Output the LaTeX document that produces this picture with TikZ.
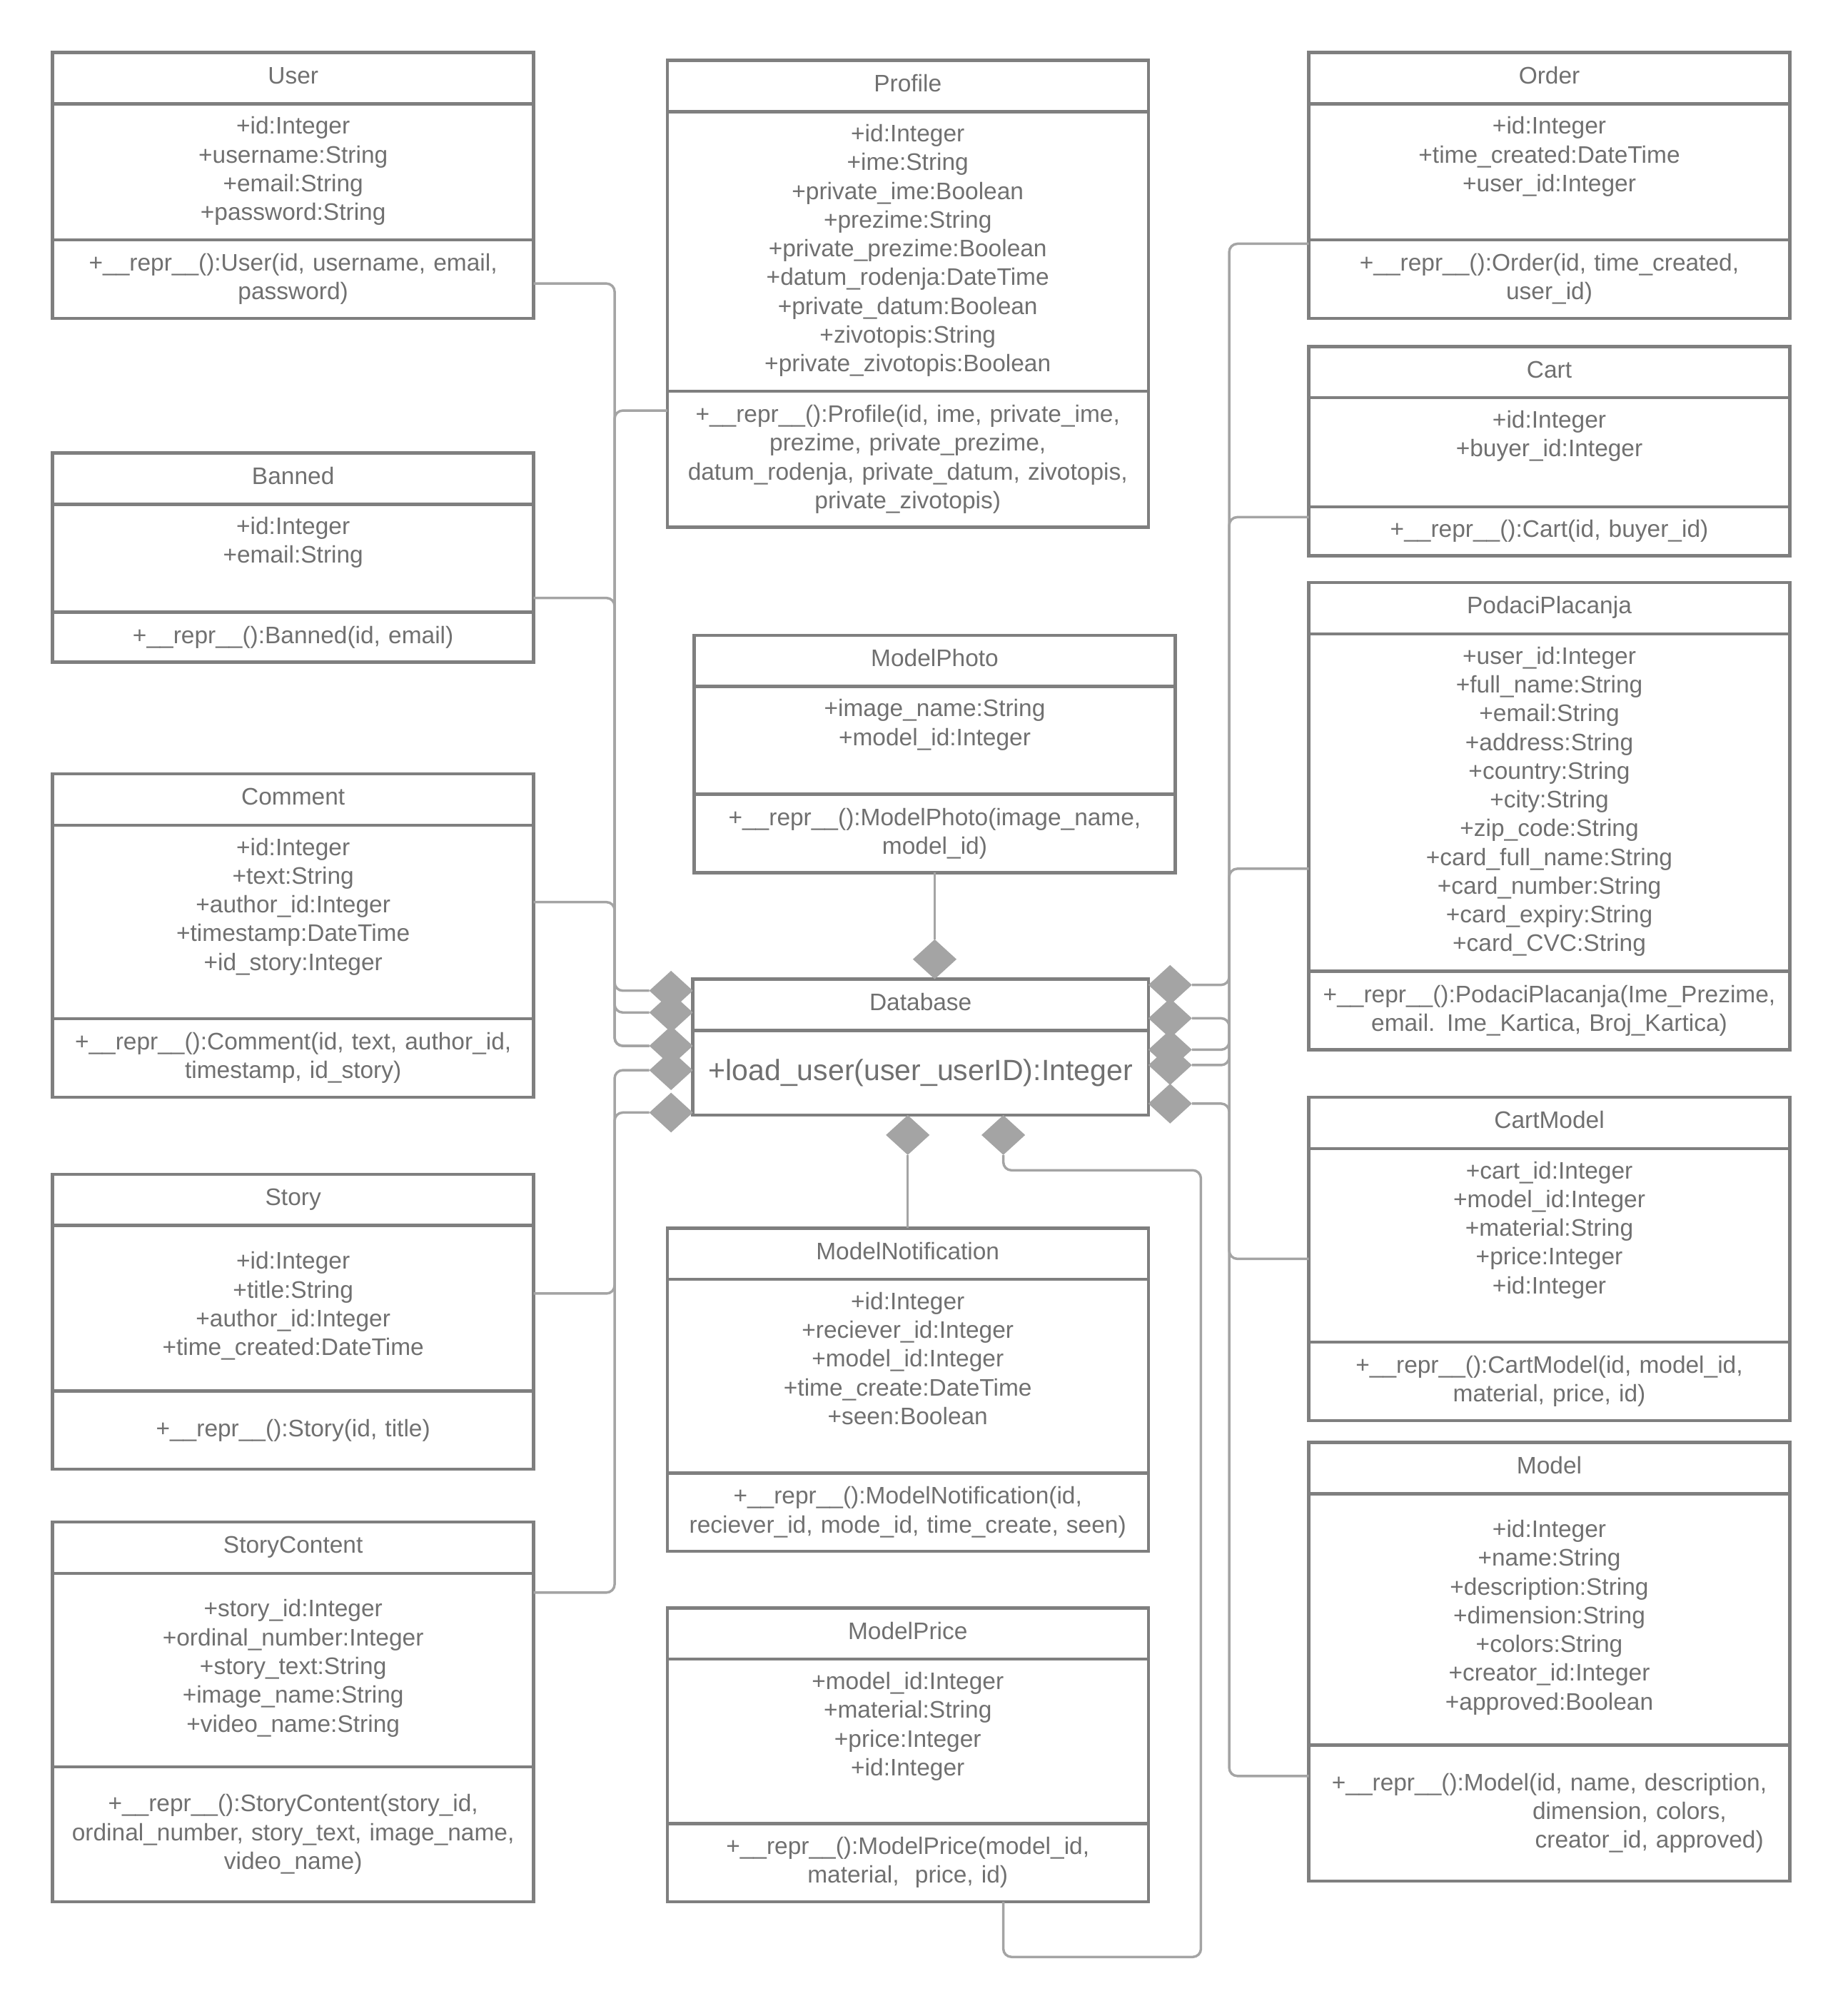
\documentclass[tikz,border=0pt]{standalone}
\usepackage{fontspec}
\setmainfont{Liberation Sans}
\usepackage{xcolor}
\usetikzlibrary{shapes.geometric, positioning}

\definecolor{boxgray}{HTML}{7F7F7F}
\definecolor{linkgray}{HTML}{A4A4A4}
\definecolor{textgray}{HTML}{707070}

\newcommand{\classfont}{\fontsize{10.6}{12.75}\selectfont}
\newcommand{\attrs}[3]{\parbox[c][#1][t]{7.5cm}{\centering\vspace*{#2}#3}}

\tikzset{
  classbox/.style={draw=boxgray, line width=1.4pt, rectangle, inner sep=0pt, outer sep=0pt, text=textgray, font=\classfont},
  classname/.style={classbox, minimum width=7.5cm, minimum height=0.8cm, text height=7.7pt, text depth=2.7pt},
  methods/.style={classbox, text width=7.5cm, align=center},
  link/.style={draw=linkgray, line width=1.1pt, rounded corners=3.6pt},
  owner/.style={diamond, fill=linkgray, inner sep=0pt, outer sep=0pt, minimum width=0.68cm, minimum height=0.62cm},
}

\begin{document}
\begin{tikzpicture}[x=0.02cm, y=-0.02cm]
    \useasboundingbox (0,0) rectangle (1440,1571);

    % left column
    \node [classname, anchor=north west] (user) at (41,41) {User};
    \node [classbox, below=0pt of user] (user-a) {\attrs{2.12cm}{0.2cm}{+id:Integer\\+username:String\\+email:String\\+password:String}};
    \node [methods, below=0pt of user-a, minimum height=1.22cm] (user-m) {+\_\_repr\_\_():User(id, username, email,\\password)};

    \node [classname, anchor=north west] (banned) at (41,353) {Banned};
    \node [classbox, below=0pt of banned] (banned-a) {\attrs{1.68cm}{0.2cm}{+id:Integer\\+email:String}};
    \node [methods, below=0pt of banned-a, minimum height=0.78cm] (banned-m) {+\_\_repr\_\_():Banned(id, email)};

    \node [classname, anchor=north west] (comment) at (41,603) {Comment};
    \node [classbox, below=0pt of comment] (comment-a) {\attrs{3.02cm}{0.2cm}{+id:Integer\\+text:String\\+author\_id:Integer\\+timestamp:DateTime\\+id\_story:Integer}};
    \node [methods, below=0pt of comment-a, minimum height=1.22cm] (comment-m) {+\_\_repr\_\_():Comment(id, text, author\_id,\\timestamp, id\_story)};

    \node [classname, anchor=north west] (story) at (41,915) {Story};
    \node [classbox, below=0pt of story] (story-a) {\attrs{2.58cm}{0.41cm}{+id:Integer\\+title:String\\+author\_id:Integer\\+time\_created:DateTime}};
    \node [methods, below=0pt of story-a, minimum height=1.22cm] (story-m) {+\_\_repr\_\_():Story(id, title)};

    \node [classname, anchor=north west] (content) at (41,1186) {StoryContent};
    \node [classbox, below=0pt of content] (content-a) {\attrs{3.02cm}{0.41cm}{+story\_id:Integer\\+ordinal\_number:Integer\\+story\_text:String\\+image\_name:String\\+video\_name:String}};
    \node [methods, below=0pt of content-a, minimum height=2.1cm] (content-m) {+\_\_repr\_\_():StoryContent(story\_id,\\ordinal\_number, story\_text, image\_name,\\video\_name)};

    % middle column
    \node [classname, anchor=north west] (profile) at (520,47) {Profile};
    \node [classbox, below=0pt of profile] (profile-a) {\attrs{4.36cm}{0.2cm}{+id:Integer\\+ime:String\\+private\_ime:Boolean\\+prezime:String\\+private\_prezime:Boolean\\+datum\_rodenja:DateTime\\+private\_datum:Boolean\\+zivotopis:String\\+private\_zivotopis:Boolean}};
    \node [methods, below=0pt of profile-a, minimum height=2.12cm] (profile-m) {+\_\_repr\_\_():Profile(id, ime, private\_ime,\\prezime, private\_prezime,\\datum\_rodenja, private\_datum, zivotopis,\\private\_zivotopis)};

    \node [classname, anchor=north west] (photo) at (541,495) {ModelPhoto};
    \node [classbox, below=0pt of photo] (photo-a) {\attrs{1.68cm}{0.2cm}{+image\_name:String\\+model\_id:Integer}};
    \node [methods, below=0pt of photo-a, minimum height=1.22cm] (photo-m) {+\_\_repr\_\_():ModelPhoto(image\_name,\\model\_id)};

    \node [classname, anchor=north west, minimum width=7.1cm] (db) at (540,763) {Database};
    \node [methods, below=0pt of db, text width=7.1cm, minimum height=1.32cm, font=\fontsize{13}{15.6}\selectfont] (db-m) {+load\_user(user\_userID):Integer};

    \node [classname, anchor=north west] (note) at (520,957) {ModelNotification};
    \node [classbox, below=0pt of note] (note-a) {\attrs{3.02cm}{0.2cm}{+id:Integer\\+reciever\_id:Integer\\+model\_id:Integer\\+time\_create:DateTime\\+seen:Boolean}};
    \node [methods, below=0pt of note-a, minimum height=1.22cm] (note-m) {+\_\_repr\_\_():ModelNotification(id,\\reciever\_id, mode\_id, time\_create, seen)};

    \node [classname, anchor=north west] (price) at (520,1253) {ModelPrice};
    \node [classbox, below=0pt of price] (price-a) {\attrs{2.56cm}{0.2cm}{+model\_id:Integer\\+material:String\\+price:Integer\\+id:Integer}};
    \node [methods, below=0pt of price-a, minimum height=1.22cm] (price-m) {+\_\_repr\_\_():ModelPrice(model\_id,\\material,~ price, id)};

    % right column
    \node [classname, anchor=north west] (order) at (1020,41) {Order};
    \node [classbox, below=0pt of order] (order-a) {\attrs{2.12cm}{0.2cm}{+id:Integer\\+time\_created:DateTime\\+user\_id:Integer}};
    \node [methods, below=0pt of order-a, minimum height=1.22cm] (order-m) {+\_\_repr\_\_():Order(id, time\_created,\\user\_id)};

    \node [classname, anchor=north west] (cart) at (1020,270) {Cart};
    \node [classbox, below=0pt of cart] (cart-a) {\attrs{1.7cm}{0.2cm}{+id:Integer\\+buyer\_id:Integer}};
    \node [methods, below=0pt of cart-a, minimum height=0.76cm] (cart-m) {+\_\_repr\_\_():Cart(id, buyer\_id)};

    \node [classname, anchor=north west] (pay) at (1020,454) {PodaciPlacanja};
    \node [classbox, below=0pt of pay] (pay-a) {\attrs{5.26cm}{0.2cm}{+user\_id:Integer\\+full\_name:String\\+email:String\\+address:String\\+country:String\\+city:String\\+zip\_code:String\\+card\_full\_name:String\\+card\_number:String\\+card\_expiry:String\\+card\_CVC:String}};
    \node [methods, below=0pt of pay-a, minimum height=1.22cm] (pay-m) {+\_\_repr\_\_():PodaciPlacanja(Ime\_Prezime,\\email. Ime\_Kartica, Broj\_Kartica)};

    \node [classname, anchor=north west] (cartmodel) at (1020,855) {CartModel};
    \node [classbox, below=0pt of cartmodel] (cartmodel-a) {\attrs{3.02cm}{0.2cm}{+cart\_id:Integer\\+model\_id:Integer\\+material:String\\+price:Integer\\+id:Integer}};
    \node [methods, below=0pt of cartmodel-a, minimum height=1.22cm] (cartmodel-m) {+\_\_repr\_\_():CartModel(id, model\_id,\\material, price, id)};

    \node [classname, anchor=north west] (model) at (1020,1124) {Model};
    \node [classbox, below=0pt of model] (model-a) {\attrs{3.92cm}{0.41cm}{+id:Integer\\+name:String\\+description:String\\+dimension:String\\+colors:String\\+creator\_id:Integer\\+approved:Boolean}};
    \node [methods, below=0pt of model-a, minimum height=2.12cm] (model-m) {+\_\_repr\_\_():Model(id, name, description,\\\hspace*{2.5cm}dimension, colors,\\\hspace*{3.12cm}creator\_id, approved)};

    % composition diamonds
    \node [owner, anchor=east] (dl1) at ([yshift=-0.18cm]db.north west) {};
    \node [owner, anchor=east] (dl2) at ([yshift=-0.52cm]db.north west) {};
    \node [owner, anchor=east] (dl3) at ([yshift=-1.04cm]db.north west) {};
    \node [owner, anchor=east] (dl4) at ([yshift=-1.42cm]db.north west) {};
    \node [owner, anchor=east] (dl5) at ([yshift=-2.08cm]db.north west) {};

    \node [owner, anchor=west] (dr1) at ([yshift=-0.09cm]db.north east) {};
    \node [owner, anchor=west] (dr2) at ([yshift=-0.61cm]db.north east) {};
    \node [owner, anchor=west] (dr3) at ([yshift=-1.1cm]db.north east) {};
    \node [owner, anchor=west] (dr4) at ([yshift=-1.34cm]db.north east) {};
    \node [owner, anchor=west] (dr5) at ([yshift=-1.94cm]db.north east) {};

    \coordinate (price-out) at ([xshift=5.24cm]price-m.south west);
    \node [owner, anchor=south] (dtop) at (db.north -| photo-m.south) {};
    \node [owner, anchor=north] (db1) at (db-m.south -| note.north) {};
    \node [owner, anchor=north] (db2) at (db-m.south -| price-out) {};

    \coordinate (lbus) at (479,0);
    \coordinate (rbus) at (958,0);

    \draw [link] ([yshift=-0.07cm]user-m.east) -| (lbus |- dl1.west) -- (dl1.west);
    \draw [link] ([yshift=-0.3cm]profile-m.north west) -| (lbus |- dl2.west) -- (dl2.west);
    \draw [link] ([yshift=0.22cm]banned-a.south east) -| (lbus |- dl3.west) -- (dl3.west);
    \draw [link] ([yshift=0.31cm]comment-a.east) -| (lbus |- dl3.west) -- (dl3.west);
    \draw [link] ([yshift=0.23cm]story-a.east) -| (lbus |- dl4.west) -- (dl4.west);
    \draw [link] ([yshift=-0.3cm]content-a.north east) -| (lbus |- dl5.west) -- (dl5.west);

    \draw [link] ([yshift=-0.06cm]order-m.north west) -| (rbus |- dr1.east) -- (dr1.east);
    \draw [link] ([yshift=-0.16cm]cart-m.north west) -| (rbus |- dr3.east) -- (dr3.east);
    \draw [link] ([yshift=1.6cm]pay-a.south west) -| (rbus |- dr4.east) -- (dr4.east);
    \draw [link] ([yshift=-0.21cm]cartmodel-a.west) -| (rbus |- dr2.east) -- (dr2.east);
    \draw [link] ([yshift=-0.48cm]model-m.north west) -| (rbus |- dr5.east) -- (dr5.east);

    \draw [link] (photo-m.south) -- (dtop.north);
    \draw [link] (note.north) -- (db1.south);
    \draw [link] (price-out) -- ++(0,43) -- ++(154,0) -- ++(0,-613) -- ++(-154,0) -- (db2.south);
\end{tikzpicture}
\end{document}
